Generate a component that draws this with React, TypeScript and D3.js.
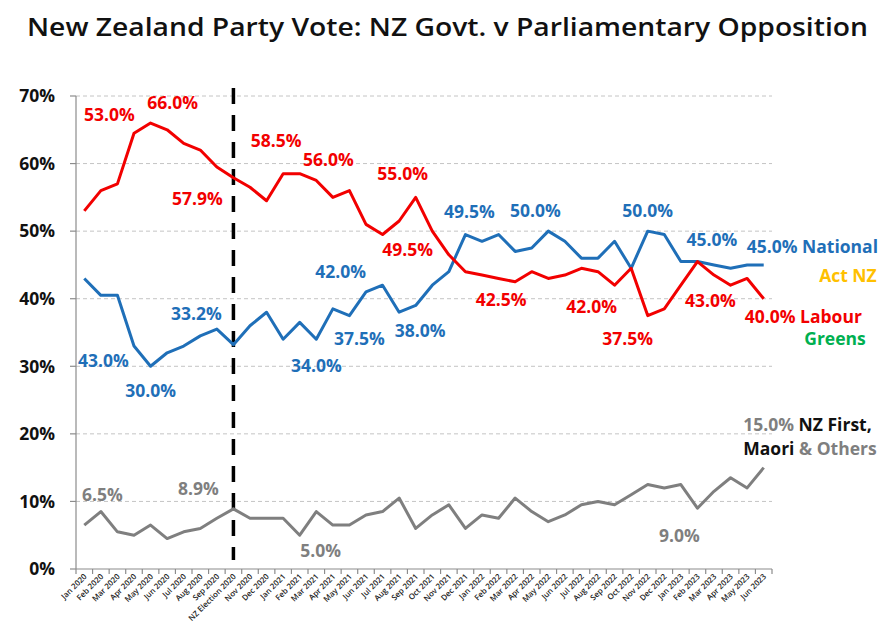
import React from "react";
import * as d3 from "d3";

const months: string[] = [
  "Jan 2020", "Feb 2020", "Mar 2020", "Apr 2020", "May 2020", "Jun 2020", "Jul 2020", "Aug 2020", "Sep 2020",
  "NZ Election 2020", "Nov 2020", "Dec 2020",
  "Jan 2021", "Feb 2021", "Mar 2021", "Apr 2021", "May 2021", "Jun 2021", "Jul 2021", "Aug 2021", "Sep 2021", "Oct 2021", "Nov 2021", "Dec 2021",
  "Jan 2022", "Feb 2022", "Mar 2022", "Apr 2022", "May 2022", "Jun 2022", "Jul 2022", "Aug 2022", "Sep 2022", "Oct 2022", "Nov 2022", "Dec 2022",
  "Jan 2023", "Feb 2023", "Mar 2023", "Apr 2023", "May 2023", "Jun 2023",
];

const labourGreens: number[] = [
  53.0, 56.0, 57.0, 64.5, 66.0, 65.0, 63.0, 62.0, 59.5, 57.9, 56.5, 54.5,
  58.5, 58.5, 57.5, 55.0, 56.0, 51.0, 49.5, 51.5, 55.0, 50.0, 46.5, 44.0,
  43.5, 43.0, 42.5, 44.0, 43.0, 43.5, 44.5, 44.0, 42.0, 44.5, 37.5, 38.5,
  42.0, 45.5, 43.5, 42.0, 43.0, 40.0,
];

const nationalAct: number[] = [
  43.0, 40.5, 40.5, 33.0, 30.0, 32.0, 33.0, 34.5, 35.5, 33.2, 36.0, 38.0,
  34.0, 36.5, 34.0, 38.5, 37.5, 41.0, 42.0, 38.0, 39.0, 42.0, 44.0, 49.5,
  48.5, 49.5, 47.0, 47.5, 50.0, 48.5, 46.0, 46.0, 48.5, 44.5, 50.0, 49.5,
  45.5, 45.5, 45.0, 44.5, 45.0, 45.0,
];

const others: number[] = [
  6.5, 8.5, 5.5, 5.0, 6.5, 4.5, 5.5, 6.0, 7.5, 8.9, 7.5, 7.5,
  7.5, 5.0, 8.5, 6.5, 6.5, 8.0, 8.5, 10.5, 6.0, 8.0, 9.5, 6.0,
  8.0, 7.5, 10.5, 8.5, 7.0, 8.0, 9.5, 10.0, 9.5, 11.0, 12.5, 12.0,
  12.5, 9.0, 11.5, 13.5, 12.0, 15.0,
];

const yTicks: number[] = [0, 10, 20, 30, 40, 50, 60, 70];

const electionLabel = "NZ Election 2020";

// labelled points: index, text
const labourLabels: [number, string][] = [
  [0, "53.0%"], [4, "66.0%"], [9, "57.9%"], [12, "58.5%"], [16, "56.0%"], [20, "55.0%"],
  [18, "49.5%"], [26, "42.5%"], [32, "42.0%"], [34, "37.5%"], [38, "43.0%"],
];
const nationalLabels: [number, string][] = [
  [0, "43.0%"], [4, "30.0%"], [9, "33.2%"], [14, "34.0%"], [16, "37.5%"], [18, "42.0%"],
  [19, "38.0%"], [23, "49.5%"], [28, "50.0%"], [34, "50.0%"], [38, "45.0%"],
];
const otherLabels: [number, string][] = [
  [0, "6.5%"], [9, "8.9%"], [13, "5.0%"], [37, "9.0%"],
];

const title = "New Zealand Party Vote: NZ Govt. v Parliamentary Opposition";

const RED = "#f20000";
const BLUE = "#1f6fb8";
const GREY = "#7f7f7f";
const YELLOW = "#ffc000";
const GREEN = "#00b050";
const FONT = "'Open Sans', 'Noto Sans', sans-serif";

// label offsets (px) from their anchor point, same order as label arrays
const labourOffsets: [number, number][] = [
  [25, -96], [22, -20], [-36, 21], [-7, -33], [-21, -31], [-13, -24],
  [25, 15.5], [-14, 18], [-23, 21], [-20, 23], [-3.5, 26],
];
const nationalOffsets: [number, number][] = [
  [19, 82.6], [0, 24], [-37, -31], [0, 26], [10, 23], [-42, -14],
  [21, 18], [4, -23], [-13, -20], [0, -20], [-2, -25],
];
const otherOffsets: [number, number][] = [
  [18, -30], [-35, -20], [21, 15], [-18, 28],
];

export default function App() {
  const W = 893;
  const H = 625;
  const left = 76;
  const right = 772;
  const top = 96;
  const bottom = 569;

  const x = d3.scaleBand<string>().domain(months).range([left, right]).padding(0);
  const cx = (i: number) => (x(months[i]) as number) + x.bandwidth() / 2;
  const y = d3.scaleLinear().domain([0, 70]).range([bottom, top]);

  const line = d3
    .line<number>()
    .x((_, i) => cx(i))
    .y((d) => y(d));

  const elecX = cx(months.indexOf(electionLabel));
  const last = months.length - 1;

  const labelStyle = {
    fontFamily: FONT,
    fontWeight: 700,
    fontSize: 17.5,
  } as React.CSSProperties;

  const renderLabels = (
    labels: [number, string][],
    offs: [number, number][],
    series: number[],
    color: string
  ) =>
    labels.map(([i, t], k) => (
      <text
        key={`${color}-${k}`}
        x={cx(i) + offs[k][0]}
        y={y(series[i]) + offs[k][1]}
        dy="0.36em"
        textAnchor="middle"
        fill={color}
        style={labelStyle}
      >
        {t}
      </text>
    ));

  const boundaries = d3.range(months.length + 1).map((i) => left + i * x.bandwidth());

  return (
    <svg
      width={W}
      height={H}
      style={{ position: "absolute", left: 0, top: 0, background: "#fff" }}
    >
      <rect x={0} y={0} width={W} height={H} fill="#fff" />
      <text
        x={447.5}
        y={36}
        textAnchor="middle"
        textLength={841}
        lengthAdjust="spacingAndGlyphs"
        style={{ fontFamily: FONT, fontWeight: 600, fontSize: 26 }}
        fill="#111"
      >
        {title}
      </text>

      {/* gridlines */}
      {yTicks
        .filter((t) => t > 0)
        .map((t) => (
          <line
            key={`g${t}`}
            x1={left}
            x2={right}
            y1={y(t)}
            y2={y(t)}
            stroke="#c4c4c4"
            strokeWidth={1}
            strokeDasharray="4,3"
          />
        ))}

      {/* y axis */}
      <line x1={left} x2={left} y1={top} y2={bottom} stroke="#8c8c8c" strokeWidth={1.2} />
      {yTicks.map((t) => (
        <g key={`yt${t}`}>
          <line x1={left - 6} x2={left} y1={y(t)} y2={y(t)} stroke="#8c8c8c" strokeWidth={1.2} />
          <text
            x={55}
            y={y(t)}
            dy="0.36em"
            textAnchor="end"
            style={{ fontFamily: FONT, fontWeight: 700, fontSize: 17.5 }}
            fill="#111"
          >
            {t}%
          </text>
        </g>
      ))}

      {/* x axis */}
      <line x1={left} x2={right} y1={bottom} y2={bottom} stroke="#8c8c8c" strokeWidth={1.2} />
      {boundaries.map((bx, i) => (
        <line key={`xt${i}`} x1={bx} x2={bx} y1={bottom} y2={bottom + 5} stroke="#8c8c8c" strokeWidth={1.2} />
      ))}
      {months.map((m, i) => (
        <text
          key={`xl${i}`}
          transform={`translate(${cx(i) + 3},${bottom + 8}) rotate(-45)`}
          textAnchor="end"
          style={{ fontFamily: FONT, fontWeight: 600, fontSize: 7.9 }}
          fill="#222"
        >
          {m}
        </text>
      ))}

      {/* election dashed line */}
      <line
        x1={elecX}
        x2={elecX}
        y1={88}
        y2={560}
        stroke="#000"
        strokeWidth={3.5}
        strokeDasharray="16,11"
      />

      {/* series */}
      <path d={line(others) || ""} fill="none" stroke={GREY} strokeWidth={3} strokeLinejoin="round" />
      <path d={line(nationalAct) || ""} fill="none" stroke={BLUE} strokeWidth={3} strokeLinejoin="round" />
      <path d={line(labourGreens) || ""} fill="none" stroke={RED} strokeWidth={3} strokeLinejoin="round" />

      {renderLabels(labourLabels, labourOffsets, labourGreens, RED)}
      {renderLabels(nationalLabels, nationalOffsets, nationalAct, BLUE)}
      {renderLabels(otherLabels, otherOffsets, others, GREY)}

      {/* end legends */}
      <text x={cx(last) - 17} y={y(nationalAct[last]) - 18} dy="0.36em" fill={BLUE} style={labelStyle}>
        {`${nationalAct[last].toFixed(1)}% National`}
      </text>
      <text x={cx(last) + 113} y={y(nationalAct[last]) + 11} dy="0.36em" textAnchor="end" fill={YELLOW} style={labelStyle}>
        Act NZ
      </text>
      <text x={cx(last) - 19} y={y(labourGreens[last]) + 18} dy="0.36em" fill={RED} style={labelStyle}>
        {`${labourGreens[last].toFixed(1)}% Labour`}
      </text>
      <text x={cx(last) + 102} y={y(labourGreens[last]) + 40} dy="0.36em" textAnchor="end" fill={GREEN} style={labelStyle}>
        Greens
      </text>
      <text x={cx(last) + 108} y={y(others[last]) - 43} dy="0.36em" textAnchor="end" style={labelStyle}>
        <tspan fill={GREY}>{`${others[last].toFixed(1)}% `}</tspan>
        <tspan fill="#111">NZ First,</tspan>
      </text>
      <text x={cx(last) + 113} y={y(others[last]) - 19} dy="0.36em" textAnchor="end" style={labelStyle}>
        <tspan fill="#111">Maori</tspan>
        <tspan fill={GREY}> &amp; Others</tspan>
      </text>
    </svg>
  );
}
